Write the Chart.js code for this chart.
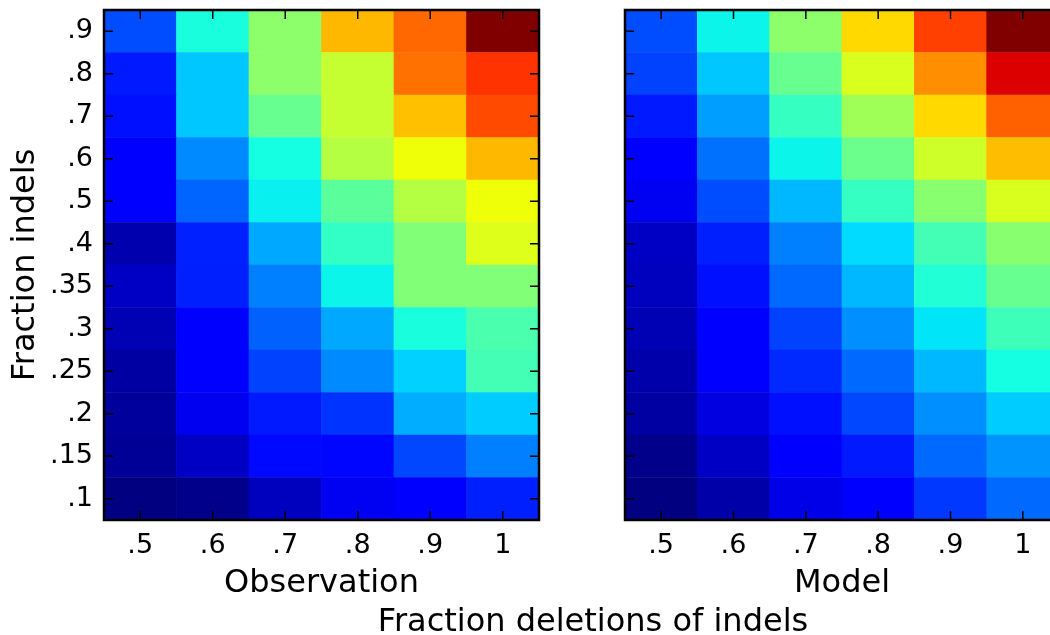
<!DOCTYPE html>
<html>
<head>
<meta charset="utf-8">
<script src="https://cdn.jsdelivr.net/npm/chart.js@4.4.1/dist/chart.umd.min.js"></script>
<style>
    html, body { margin: 0; padding: 0; background: #fff; }
    #wrap { position: relative; width: 1050px; height: 635px; overflow: hidden; }
    #wrap canvas { position: absolute; left: 0; top: 0; }
</style>
</head>
<body>
<div id="wrap">
    <canvas id="obsChart" width="1070" height="635"></canvas>
    <canvas id="modelChart" width="1070" height="635"></canvas>
</div>
<script>
// Fraction deletions of indels (columns) and fraction indels (rows, bottom -> top)
const colLabels = ['.5', '.6', '.7', '.8', '.9', '1'];
const rowLabels = ['.1', '.15', '.2', '.25', '.3', '.35', '.4', '.5', '.6', '.7', '.8', '.9'];

// Normalised heat values, top row (.9) first
const observation = [
    [0.20, 0.38, 0.52, 0.715, 0.80, 1.00],
    [0.15, 0.32, 0.52, 0.59, 0.79, 0.856],
    [0.14, 0.32, 0.475, 0.59, 0.707, 0.832],
    [0.115, 0.26, 0.375, 0.57, 0.64, 0.715],
    [0.11, 0.223, 0.36, 0.46, 0.57, 0.64],
    [0.04, 0.156, 0.29, 0.41, 0.505, 0.62],
    [0.06, 0.155, 0.25, 0.365, 0.505, 0.505],
    [0.045, 0.115, 0.22, 0.29, 0.38, 0.44],
    [0.03, 0.115, 0.19, 0.26, 0.33, 0.43],
    [0.025, 0.097, 0.15, 0.175, 0.295, 0.325],
    [0.02, 0.059, 0.133, 0.13, 0.195, 0.25],
    [0.0, 0.01, 0.055, 0.10, 0.115, 0.155]
];

const model = [
    [0.20, 0.365, 0.52, 0.68, 0.842, 1.00],
    [0.19, 0.32, 0.475, 0.613, 0.76, 0.92],
    [0.15, 0.28, 0.415, 0.545, 0.68, 0.808],
    [0.115, 0.235, 0.365, 0.48, 0.60, 0.71],
    [0.10, 0.20, 0.305, 0.415, 0.515, 0.613],
    [0.06, 0.155, 0.25, 0.34, 0.43, 0.515],
    [0.055, 0.14, 0.228, 0.305, 0.39, 0.475],
    [0.045, 0.115, 0.19, 0.265, 0.35, 0.425],
    [0.037, 0.115, 0.165, 0.228, 0.305, 0.375],
    [0.03, 0.083, 0.14, 0.195, 0.265, 0.325],
    [0.01, 0.06, 0.115, 0.15, 0.228, 0.27],
    [0.0, 0.035, 0.09, 0.115, 0.18, 0.228]
];

const FONT = 'DejaVu Sans';
const TICK_SIZE = 27;

// matplotlib "jet" colormap segments
const JET = {
    r: [[0, 0], [0.35, 0], [0.66, 1], [0.89, 1], [1, 0.5]],
    g: [[0, 0], [0.125, 0], [0.375, 1], [0.64, 1], [0.91, 0], [1, 0]],
    b: [[0, 0.5], [0.11, 1], [0.34, 1], [0.65, 0], [1, 0]]
};

function segment(points, v) {
    for (let i = 1; i < points.length; i++) {
        const [x0, y0] = points[i - 1];
        const [x1, y1] = points[i];
        if (v <= x1) return y0 + (y1 - y0) * (v - x0) / (x1 - x0);
    }
    return points[points.length - 1][1];
}

function jet(v) {
    v = Math.min(1, Math.max(0, v));
    const c = k => Math.round(255 * segment(JET[k], v));
    return `rgb(${c('r')}, ${c('g')}, ${c('b')})`;
}

// Inward ticks on all four sides, the frame, and free text labels
const framePlugin = {
    id: 'framePlugin',
    afterDraw(chart, args, opts) {
        const { ctx, chartArea: a, scales: { x, y } } = chart;
        const len = 9;
        ctx.save();
        ctx.strokeStyle = '#000';
        ctx.lineWidth = 1.5;
        ctx.beginPath();
        x.ticks.forEach((t, i) => {
            const px = x.getPixelForTick(i);
            ctx.moveTo(px, a.bottom); ctx.lineTo(px, a.bottom - len);
            ctx.moveTo(px, a.top); ctx.lineTo(px, a.top + len);
        });
        y.ticks.forEach((t, i) => {
            const py = y.getPixelForTick(i);
            ctx.moveTo(a.left, py); ctx.lineTo(a.left + len, py);
            ctx.moveTo(a.right, py); ctx.lineTo(a.right - len, py);
        });
        ctx.stroke();
        ctx.lineWidth = 2.5;
        ctx.strokeRect(a.left, a.top, a.width, a.height);

        ctx.fillStyle = '#000';
        ctx.textBaseline = 'alphabetic';
        ctx.textAlign = 'center';
        (opts.texts || []).forEach(t => {
            ctx.save();
            ctx.font = `${t.size}px "${FONT}"`;
            ctx.translate(t.x, t.y);
            if (t.rotate) ctx.rotate(t.rotate);
            ctx.fillText(t.text, 0, 0);
            ctx.restore();
        });
        ctx.restore();
    }
};

function buildDatasets(values) {
    // one stacked dataset per row, bottom row first
    return rowLabels.map((label, r) => {
        const row = values[values.length - 1 - r];
        return {
            label: label,
            data: colLabels.map(() => 1),
            backgroundColor: row.map(jet),
            borderWidth: 0,
            categoryPercentage: 1,
            barPercentage: 1
        };
    });
}

function makeChart(id, values, opts) {
    return new Chart(document.getElementById(id), {
        type: 'bar',
        data: { labels: colLabels, datasets: buildDatasets(values) },
        options: {
            responsive: false,
            animation: false,
            events: [],
            layout: { padding: { top: 10, right: opts.padRight, left: 0, bottom: 0 } },
            plugins: {
                legend: { display: false },
                tooltip: { enabled: false },
                framePlugin: { texts: opts.texts }
            },
            scales: {
                x: {
                    stacked: true,
                    grid: { display: false, drawTicks: false },
                    border: { display: false },
                    ticks: { color: '#000', padding: 10, font: { family: FONT, size: TICK_SIZE } },
                    afterFit: scale => {
                        scale.height = 115;
                        scale.paddingLeft = 0;
                        scale.paddingRight = 0;
                    }
                },
                y: {
                    stacked: true,
                    min: 0,
                    max: rowLabels.length,
                    grid: { display: false, drawTicks: false },
                    border: { display: false },
                    afterBuildTicks: axis => {
                        axis.ticks = rowLabels.map((l, i) => ({ value: i + 0.5 }));
                    },
                    ticks: {
                        display: opts.showY,
                        color: '#000',
                        padding: 11,
                        font: { family: FONT, size: TICK_SIZE },
                        callback: (value, index) => rowLabels[index]
                    },
                    afterFit: scale => {
                        scale.width = opts.axisLeft;
                        scale.paddingTop = 0;
                        scale.paddingBottom = 0;
                    }
                }
            }
        },
        plugins: [framePlugin]
    });
}

makeChart('obsChart', observation, {
    axisLeft: 104,
    padRight: 1070 - 539,
    showY: true,
    texts: [
        { text: 'Observation', x: 321.5, y: 592, size: 32 },
        { text: 'Fraction indels', x: 34, y: 265, size: 32, rotate: -Math.PI / 2 },
        { text: 'Fraction deletions of indels', x: 593, y: 631, size: 32 }
    ]
});

makeChart('modelChart', model, {
    axisLeft: 625,
    padRight: 11,
    showY: false,
    texts: [
        { text: 'Model', x: 842, y: 592, size: 32 }
    ]
});
</script>
</body>
</html>
